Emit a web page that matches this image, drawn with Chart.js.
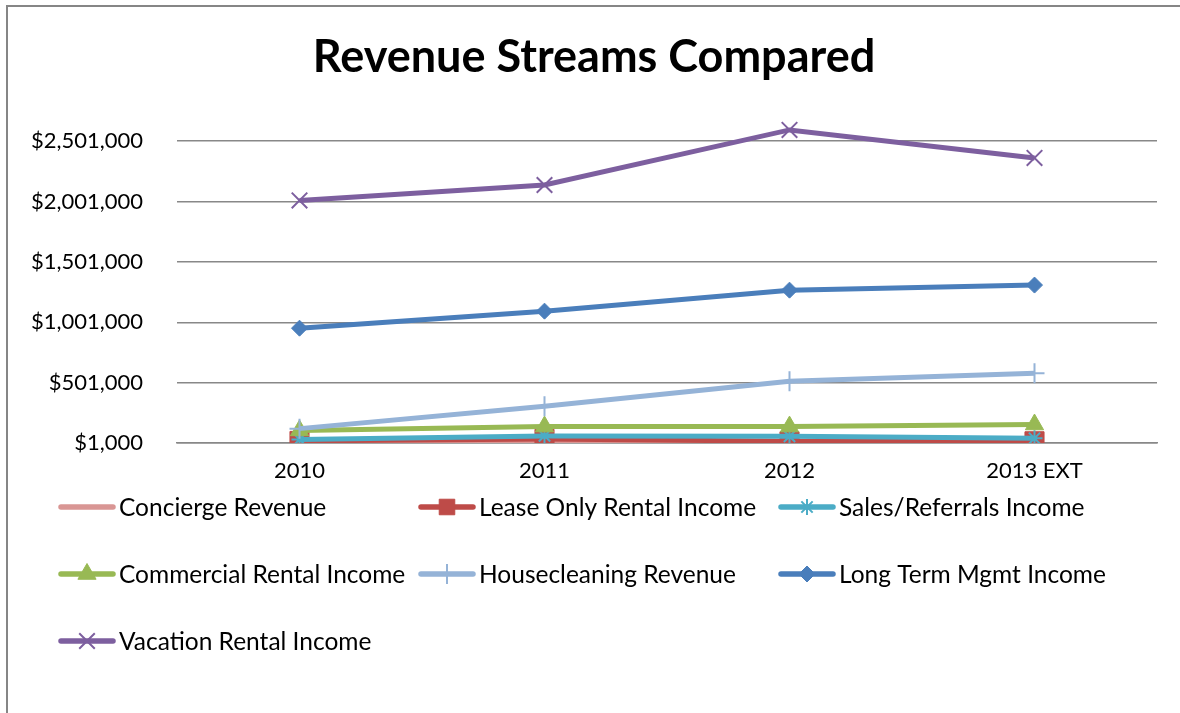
<!DOCTYPE html>
<html>
<head>
<meta charset="utf-8">
<title>Revenue Streams Compared</title>
<script src="https://cdn.jsdelivr.net/npm/chart.js@4.4.1/dist/chart.umd.min.js"></script>
<style>
  html, body { margin: 0; padding: 0; background: #fff; }
  #wrap { width: 1180px; height: 713px; }
</style>
</head>
<body>
<div id="wrap"><canvas id="revenue-chart" width="1180" height="713"></canvas></div>
<script>
// categories and axis ticks
const years = ['2010', '2011', '2012', '2013 EXT'];
const yTicks = [1000, 501000, 1001000, 1501000, 2001000, 2501000];

// yearly revenue per stream (USD)
const conciergeRevenue = [6000, 20000, 8000, 8000];
const leaseOnlyIncome = [18000, 35000, 15000, 15000];
const salesReferralsIncome = [31000, 60000, 56000, 40000];
const commercialRentalIncome = [105000, 137000, 137000, 154000];
const housecleaningRevenue = [120000, 305000, 513000, 579000];
const longTermMgmtIncome = [952000, 1093000, 1267000, 1309000];
const vacationRentalIncome = [2010000, 2138000, 2594000, 2362000];

const seriesNames = [
  'Concierge Revenue', 'Lease Only Rental Income', 'Sales/Referrals Income',
  'Commercial Rental Income', 'Housecleaning Revenue', 'Long Term Mgmt Income',
  'Vacation Rental Income'
];
const seriesValues = [
  conciergeRevenue, leaseOnlyIncome, salesReferralsIncome,
  commercialRentalIncome, housecleaningRevenue, longTermMgmtIncome,
  vacationRentalIncome
];

const FONT = 'Lato, "Open Sans", sans-serif';

// line colour and marker for each stream
const seriesStyles = [
  { color: '#D99694', marker: false, radius: 0, markerWidth: 1 },
  { color: '#BE4B48', marker: 'rect', radius: 13.5, markerWidth: 1 },
  { color: '#4BACC6', marker: 'star', radius: 8, markerWidth: 2 },
  { color: '#98B954', marker: 'triangle', radius: 10.5, markerWidth: 1 },
  { color: '#95B3D7', marker: 'cross', radius: 10, markerWidth: 2 },
  { color: '#4A7EBB', marker: 'rectRot', radius: 8, markerWidth: 1 },
  { color: '#7D5F9F', marker: 'crossRot', radius: 11, markerWidth: 2 }
];

const datasets = seriesNames.map((name, i) => {
  const s = seriesStyles[i];
  return {
    label: name,
    data: seriesValues[i],
    borderColor: s.color,
    backgroundColor: s.color,
    borderWidth: 5,
    pointStyle: s.marker,
    pointRadius: s.radius,
    pointBorderWidth: s.markerWidth,
    pointBackgroundColor: s.color,
    pointBorderColor: s.color,
    tension: 0,
    order: seriesNames.length - i   // later streams are painted on top
  };
});

// outer frame of the chart object
const framePlugin = {
  id: 'frame',
  beforeDraw(chart) {
    const ctx = chart.ctx;
    ctx.save();
    ctx.strokeStyle = '#868686';
    ctx.lineWidth = 2;
    ctx.beginPath();
    ctx.moveTo(7, chart.height);
    ctx.lineTo(7, 6);
    ctx.lineTo(chart.width, 6);
    ctx.stroke();
    ctx.restore();
  }
};

// three-column legend under the axis
const gridLegendPlugin = {
  id: 'gridLegend',
  afterDraw(chart) {
    const ctx = chart.ctx;
    chart.data.datasets.forEach((ds, i) => {
      const x = 58 + (i % 3) * 360;
      const y = 507 + Math.floor(i / 3) * 67;
      ctx.save();
      ctx.strokeStyle = ds.borderColor;
      ctx.fillStyle = ds.borderColor;
      ctx.lineWidth = 5.5;
      ctx.lineCap = 'round';
      ctx.beginPath();
      ctx.moveTo(x + 3, y);
      ctx.lineTo(x + 55, y);
      ctx.stroke();
      if (ds.pointStyle && ds.pointRadius > 0) {
        ctx.lineWidth = ds.pointBorderWidth;
        ctx.lineCap = 'butt';
        Chart.helpers.drawPoint(ctx, {
          pointStyle: ds.pointStyle,
          radius: Math.min(ds.pointRadius, 11),
          borderWidth: ds.pointBorderWidth,
          rotation: 0
        }, x + 29, y);
      }
      ctx.fillStyle = '#000';
      ctx.font = '24.5px ' + FONT;
      ctx.textBaseline = 'middle';
      ctx.fillText(ds.label, x + 61, y + 1);
      ctx.restore();
    });
  }
};

new Chart(document.getElementById('revenue-chart'), {
  type: 'line',
  data: { labels: years, datasets: datasets },
  options: {
    responsive: false,
    animation: false,
    layout: { padding: { left: 31, right: 23, top: 0, bottom: 0 } },
    plugins: {
      legend: { display: false },
      tooltip: { enabled: false },
      title: {
        display: true,
        text: 'Revenue Streams Compared',
        color: '#000',
        font: { family: FONT, size: 45, weight: 'bold', lineHeight: 1.2 },
        padding: { top: 30, bottom: 33 }
      }
    },
    scales: {
      x: {
        offset: true,
        grid: { display: false, drawTicks: false },
        border: { display: true, color: '#888', width: 1.5 },
        ticks: { color: '#000', padding: 15, font: { family: FONT, size: 22 } },
        afterFit(scale) { scale.height = 270; }
      },
      y: {
        min: 1000,
        max: 2701000,
        grid: { color: '#888', lineWidth: 1.5, drawTicks: false, tickLength: 0 },
        border: { display: false },
        ticks: {
          color: '#000',
          padding: 34,
          font: { family: FONT, size: 22 },
          callback: (v) => '$' + Number(v).toLocaleString('en-US')
        },
        afterBuildTicks(scale) { scale.ticks = yTicks.map(v => ({ value: v })); },
        afterFit(scale) { scale.width = 146; }
      }
    }
  },
  plugins: [framePlugin, gridLegendPlugin]
});
</script>
</body>
</html>
